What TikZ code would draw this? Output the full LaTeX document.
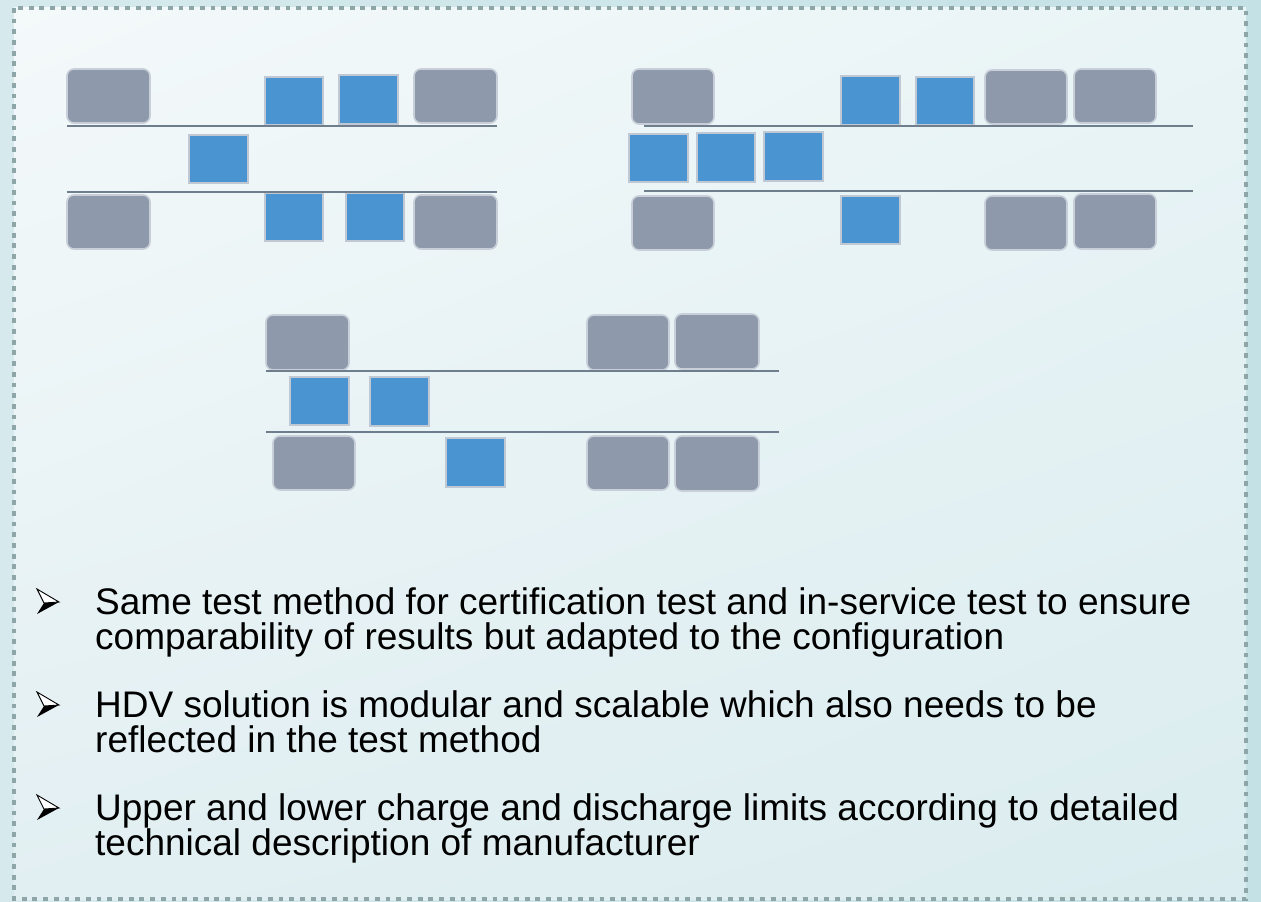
\documentclass[tikz,border=0pt]{standalone}
\usepackage{fontspec}
\setmainfont{Liberation Sans}
\usetikzlibrary{fit,shadings}
\definecolor{outerL}{HTML}{D6EAED}
\definecolor{outerR}{HTML}{C4E1E5}
\definecolor{panelTL}{HTML}{F4F9FA}
\definecolor{panelTR}{HTML}{E9F4F6}
\definecolor{panelBL}{HTML}{E2EFF2}
\definecolor{panelBR}{HTML}{DAECEF}
\definecolor{dotc}{HTML}{8FA6A8}
\definecolor{grayfill}{HTML}{8E9AAB}
\definecolor{grayedge}{HTML}{C9CFD9}
\definecolor{bluefill}{HTML}{4A94D1}
\definecolor{blueedge}{HTML}{BFC8D3}
\definecolor{railc}{HTML}{6E7E8C}
\tikzset{
  gbox/.style={fill=grayfill, draw=grayedge, line width=1.6pt, rounded corners=7pt, inner sep=0pt},
  bbox/.style={fill=bluefill, draw=blueedge, line width=1.6pt, inner sep=0pt},
  rail/.style={draw=railc, line width=2pt},
  txt/.style={font=\fontsize{37}{35}\selectfont, align=left, inner sep=0pt, text=black},
  arrowbullet/.pic={
    \fill[black] (-4,1) -- (11,0) -- (-11,12) -- cycle;
    \filldraw[fill=white, draw=black, line width=0.9pt, line join=miter] (-11,-13) -- (11,0) -- (-4,1) -- cycle;
  }
}
\begin{document}
\begin{tikzpicture}[x=1pt, y=-1pt]
% page background and panel
\shade[left color=outerL, right color=outerR] (0,0) rectangle (1261,901);
\shade[upper left=panelTL, upper right=panelTR, lower left=panelBL, lower right=panelBR] (14,8) rectangle (1246,899);
\draw[dotc, line width=4.8pt, dash pattern=on 4.8pt off 5.9pt] (14,8) rectangle (1246,899);
\useasboundingbox (0,0) rectangle (1261,901);

% ---------- configuration 1 ----------
\node[gbox, fit={(67,69) (150,123)}] (a1) {};
\node[bbox, fit={(265,77) (323,125)}] (a2) {};
\node[bbox, fit={(339,75) (398,124)}] (a3) {};
\node[gbox, fit={(414,69) (497,123)}] (a4) {};
\node[bbox, fit={(189,135) (248,183)}] (a5) {};
\node[gbox, fit={(67,195) (150,249)}] (a6) {};
\node[bbox, fit={(265,193) (323,241)}] (a7) {};
\node[bbox, fit={(346,193) (404,241)}] (a8) {};
\node[gbox, fit={(414,195) (497,249)}] (a9) {};
\coordinate (ar1) at (67,126);  \coordinate (ar2) at (497,126);
\coordinate (ar3) at (67,192);  \coordinate (ar4) at (497,192);
\draw[rail] (ar1) -- (ar2);
\draw[rail] (ar3) -- (ar4);

% ---------- configuration 2 ----------
\node[gbox, fit={(632,69) (714,124)}] (b1) {};
\node[bbox, fit={(841,76) (900,125)}] (b2) {};
\node[bbox, fit={(916,77) (974,125)}] (b3) {};
\node[gbox, fit={(985,70) (1067,124)}] (b4) {};
\node[gbox, fit={(1074,69) (1156,123)}] (b5) {};
\node[bbox, fit={(629,134) (688,182)}] (b6) {};
\node[bbox, fit={(697,133) (755,182)}] (b7) {};
\node[bbox, fit={(764,132) (823,181)}] (b8) {};
\node[gbox, fit={(632,196) (714,250)}] (b9) {};
\node[bbox, fit={(841,196) (900,244)}] (b10) {};
\node[gbox, fit={(985,196) (1067,250)}] (b11) {};
\node[gbox, fit={(1074,194) (1156,249)}] (b12) {};
\coordinate (br1) at (644,126);  \coordinate (br2) at (1193,126);
\coordinate (br3) at (644,191);  \coordinate (br4) at (1193,191);
\draw[rail] (br1) -- (br2);
\draw[rail] (br3) -- (br4);

% ---------- configuration 3 ----------
\node[gbox, fit={(266,315) (349,370)}] (c1) {};
\node[gbox, fit={(587,315) (669,370)}] (c2) {};
\node[gbox, fit={(675,314) (759,369)}] (c3) {};
\node[bbox, fit={(290,377) (349,425)}] (c4) {};
\node[bbox, fit={(370,377) (429,426)}] (c5) {};
\node[gbox, fit={(273,436) (355,490)}] (c6) {};
\node[bbox, fit={(446,438) (505,487)}] (c7) {};
\node[gbox, fit={(587,436) (669,490)}] (c8) {};
\node[gbox, fit={(675,436) (759,491)}] (c9) {};
\coordinate (cr1) at (266,371);  \coordinate (cr2) at (779,371);
\coordinate (cr3) at (266,432);  \coordinate (cr4) at (779,432);
\draw[rail] (cr1) -- (cr2);
\draw[rail] (cr3) -- (cr4);

% ---------- bullet list (anchored on the baseline of each second line) ----------
\pic at (48,602) {arrowbullet};
\node[txt, anchor=base west] (t1) at (95,649) {Same test method for certification test and in-service test to ensure\\comparability of results but adapted to the configuration};
\pic at (48,705) {arrowbullet};
\node[txt, anchor=base west] (t2) at (95,752) {HDV solution is modular and scalable which also needs to be\\reflected in the test method};
\pic at (48,808) {arrowbullet};
\node[txt, anchor=base west] (t3) at (95,855) {Upper and lower charge and discharge limits according to detailed\\technical description of manufacturer};
\end{tikzpicture}
\end{document}
